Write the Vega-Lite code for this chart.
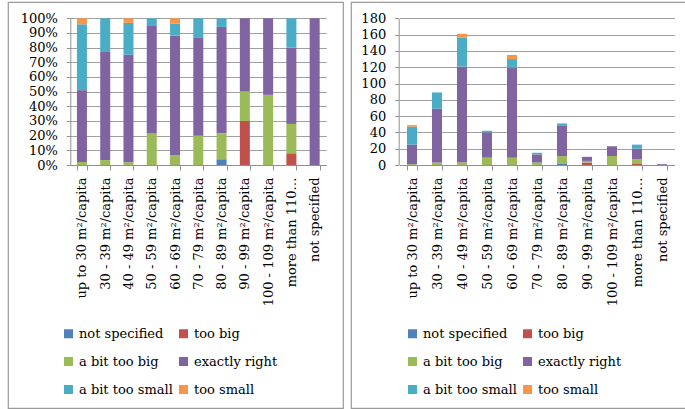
{
  "$schema": "https://vega.github.io/schema/vega-lite/v6.json",
  "padding": {"left": 1, "top": 1, "right": 1, "bottom": 1},
  "background": "white",
  "spacing": 8,
  "bounds": "flush",
  "datasets": {
    "ratings": [
      {"rating": "not specified", "rank": 0},
      {"rating": "too big", "rank": 1},
      {"rating": "a bit too big", "rank": 2},
      {"rating": "exactly right", "rank": 3},
      {"rating": "a bit too small", "rank": 4},
      {"rating": "too small", "rank": 5}
    ],
    "answers": [
      {"size": "up to 30 m²/capita", "rating": "a bit too big", "n": 1},
      {"size": "up to 30 m²/capita", "rating": "exactly right", "n": 24},
      {"size": "up to 30 m²/capita", "rating": "a bit too small", "n": 22},
      {"size": "up to 30 m²/capita", "rating": "too small", "n": 2},
      {"size": "30 - 39 m²/capita", "rating": "a bit too big", "n": 3},
      {"size": "30 - 39 m²/capita", "rating": "exactly right", "n": 66},
      {"size": "30 - 39 m²/capita", "rating": "a bit too small", "n": 20},
      {"size": "40 - 49 m²/capita", "rating": "a bit too big", "n": 3},
      {"size": "40 - 49 m²/capita", "rating": "exactly right", "n": 118},
      {"size": "40 - 49 m²/capita", "rating": "a bit too small", "n": 35},
      {"size": "40 - 49 m²/capita", "rating": "too small", "n": 5},
      {"size": "50 - 59 m²/capita", "rating": "a bit too big", "n": 9},
      {"size": "50 - 59 m²/capita", "rating": "exactly right", "n": 31},
      {"size": "50 - 59 m²/capita", "rating": "a bit too small", "n": 2},
      {"size": "60 - 69 m²/capita", "rating": "a bit too big", "n": 9},
      {"size": "60 - 69 m²/capita", "rating": "exactly right", "n": 110},
      {"size": "60 - 69 m²/capita", "rating": "a bit too small", "n": 11},
      {"size": "60 - 69 m²/capita", "rating": "too small", "n": 5},
      {"size": "70 - 79 m²/capita", "rating": "a bit too big", "n": 3},
      {"size": "70 - 79 m²/capita", "rating": "exactly right", "n": 10},
      {"size": "70 - 79 m²/capita", "rating": "a bit too small", "n": 2},
      {"size": "80 - 89 m²/capita", "rating": "not specified", "n": 2},
      {"size": "80 - 89 m²/capita", "rating": "a bit too big", "n": 9},
      {"size": "80 - 89 m²/capita", "rating": "exactly right", "n": 37},
      {"size": "80 - 89 m²/capita", "rating": "a bit too small", "n": 3},
      {"size": "90 - 99 m²/capita", "rating": "too big", "n": 3},
      {"size": "90 - 99 m²/capita", "rating": "a bit too big", "n": 2},
      {"size": "90 - 99 m²/capita", "rating": "exactly right", "n": 5},
      {"size": "100 - 109 m²/capita", "rating": "a bit too big", "n": 11},
      {"size": "100 - 109 m²/capita", "rating": "exactly right", "n": 12},
      {"size": "more than 110 m²/capita", "rating": "too big", "n": 2},
      {"size": "more than 110 m²/capita", "rating": "a bit too big", "n": 5},
      {"size": "more than 110 m²/capita", "rating": "exactly right", "n": 13},
      {"size": "more than 110 m²/capita", "rating": "a bit too small", "n": 5},
      {"size": "not specified", "rating": "exactly right", "n": 1}
    ]
  },
  "data": {"name": "answers"},
  "transform": [
    {"lookup": "rating", "from": {"data": {"name": "ratings"}, "key": "rating", "fields": ["rank"]}}
  ],
  "hconcat": [
    {
      "width": 335,
      "height": 406,
      "mark": {"type": "bar"},
      "encoding": {
        "x": {
          "field": "size", "type": "nominal",
          "sort": ["up to 30 m²/capita", "30 - 39 m²/capita", "40 - 49 m²/capita", "50 - 59 m²/capita", "60 - 69 m²/capita", "70 - 79 m²/capita", "80 - 89 m²/capita", "90 - 99 m²/capita", "100 - 109 m²/capita", "more than 110 m²/capita", "not specified"],
          "scale": {"range": [62.3, 318.3], "paddingInner": 0.57, "paddingOuter": 0.285},
          "axis": {"title": null, "labelAngle": -90, "offset": -243, "tickBand": "extent", "grid": false, "labelLimit": 300,
                   "labelExpr": "datum.label == 'more than 110 m²/capita' ? 'more than 110…' : datum.label"}
        },
        "y": {
          "field": "n", "type": "quantitative", "stack": "normalize",
          "scale": {"range": [163, 16.3]},
          "axis": {"title": null, "format": ".0%", "values": [0, 0.1, 0.2, 0.3, 0.4, 0.5, 0.6, 0.7, 0.8, 0.9, 1], "offset": -62.3}
        },
        "order": {"field": "rank", "type": "quantitative", "sort": "ascending"},
        "color": {
          "field": "rating", "type": "nominal",
          "scale": {"domain": ["not specified", "too big", "a bit too big", "exactly right", "a bit too small", "too small"],
                    "range": ["#4F81BD", "#C0504D", "#9BBB59", "#8064A2", "#4BACC6", "#F79646"]},
          "legend": {"orient": "none", "legendX": 54, "legendY": 325, "direction": "horizontal"}
        }
      }
    },
    {
      "width": 339,
      "height": 406,
      "mark": {"type": "bar"},
      "encoding": {
        "x": {
          "field": "size", "type": "nominal",
          "sort": ["up to 30 m²/capita", "30 - 39 m²/capita", "40 - 49 m²/capita", "50 - 59 m²/capita", "60 - 69 m²/capita", "70 - 79 m²/capita", "80 - 89 m²/capita", "90 - 99 m²/capita", "100 - 109 m²/capita", "more than 110 m²/capita", "not specified"],
          "scale": {"range": [48.5, 323.5], "paddingInner": 0.6, "paddingOuter": 0.3},
          "axis": {"title": null, "labelAngle": -90, "offset": -243, "tickBand": "extent", "grid": false, "labelLimit": 300,
                   "labelExpr": "datum.label == 'more than 110 m²/capita' ? 'more than 110…' : datum.label"}
        },
        "y": {
          "field": "n", "type": "quantitative", "stack": "zero",
          "scale": {"domain": [0, 180], "range": [163, 16.3]},
          "axis": {"title": null, "values": [0, 20, 40, 60, 80, 100, 120, 140, 160, 180], "offset": -47.7}
        },
        "order": {"field": "rank", "type": "quantitative", "sort": "ascending"},
        "color": {
          "field": "rating", "type": "nominal",
          "scale": {"domain": ["not specified", "too big", "a bit too big", "exactly right", "a bit too small", "too small"],
                    "range": ["#4F81BD", "#C0504D", "#9BBB59", "#8064A2", "#4BACC6", "#F79646"]},
          "legend": {"orient": "none", "legendX": 55, "legendY": 325, "direction": "horizontal"}
        }
      }
    }
  ],
  "resolve": {"scale": {"color": "independent", "x": "independent", "y": "independent"}, "legend": {"color": "independent"}},
  "config": {
    "font": "DejaVu Serif",
    "view": {"stroke": "#9a9a9a", "strokeWidth": 1.2, "fill": "white"},
    "axis": {
      "labelFont": "DejaVu Serif", "labelFontSize": 13, "labelColor": "#000000",
      "domainColor": "#909090", "domainWidth": 1,
      "tickColor": "#909090", "tickSize": 5, "tickWidth": 1,
      "gridColor": "#a0a0a0", "gridWidth": 1.2,
      "labelPadding": 7
    },
    "axisY": {"tickSize": 4, "labelPadding": 9},
    "legend": {
      "title": null, "columns": 2, "symbolType": "square", "symbolSize": 81, "symbolStrokeWidth": 0,
      "labelFont": "DejaVu Serif", "labelFontSize": 13, "labelColor": "#000000", "labelOffset": 4,
      "rowPadding": 14, "columnPadding": 4, "padding": 0, "labelLimit": 200
    }
  }
}
